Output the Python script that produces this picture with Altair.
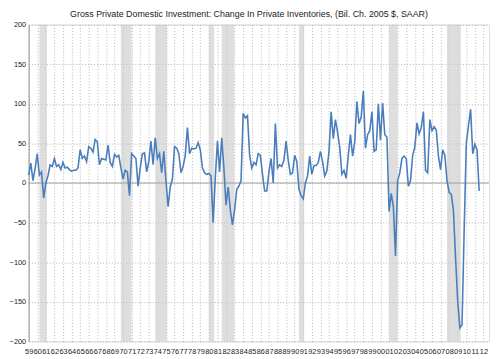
import altair as alt
import pandas as pd
import numpy as np

# Quarterly values, 1959Q1 .. 2011Q3 (Bil. Ch. 2005 $, SAAR)
values = [
    10, 25, 3, 18, 37, 10, 14, -19, 0, 9,
    23, 21, 31, 21, 23, 17, 26, 19, 20, 17,
    15, 16, 16, 19, 42, 31, 34, 27, 46, 44,
    39, 55, 52, 23, 31, 30, 29, 48, 26, 21,
    36, 33, 35, 19, 5, 16, 14, -16, 37, 34,
    31, -4, 19, 37, 38, 14, 27, 53, 23, 57,
    31, 37, 13, 40, 3, -30,
    -5, 5, 46, 44, 37, 13, 21, 35, 70, 37,
    44, 43, 44, 51, 42, 19, 13, 11, 12, 9,
    -50, 7, 53, 14, 57, 19, -28, -5, -34, -53,
    -34, -8, -4, 3, 88, 82, 85, 35, 19, 26,
    23, 37, 35, 11, -10, -10, 14, 31, 0, 75,
    19, 23, 21, 29, 53, 29, 11, 13, 35, 27,
    -8, -16, -20, 0, 9, 34, 11, 22, 22, 26,
    40, 27, 9, 15,
    40, 90, 56, 80, 64, 45, 11, 16, 6, 35,
    61, 34, 52, 103, 75, 83, 116, 44, 61, 66,
    90, 40, 42, 100, 54, 101, 61, 58, -36, -13,
    -30, -92, 3, 13, 31, 34, 31, -4, 3, 35,
    45, 76, 62, 70, 90, 16, 13, 80, 66, 71,
    67, 34, 17, 42, 35, 3, -12, -14, -35, -95,
    -150, -183, -179, -60, 50, 72, 93, 37, 49, 42,
    -10,
]
start_year = 1959

# Recession shading (decimal years)
rec_start = [1960.25, 1969.75, 1973.75, 1980.0, 1981.5, 1990.5, 2001.0, 2007.75]
rec_end = [1961.125, 1971.0, 1975.125, 1980.625, 1982.95, 1991.1, 2002.0, 2009.35]

year_ticks = list(range(1959, 2013))
y_ticks = [-200, -150, -100, -50, 0, 50, 100, 150, 200]
zero_line = [0]

title_text = "Gross Private Domestic Investment: Change In Private Inventories, (Bil. Ch. 2005 $, SAAR)"

df = pd.DataFrame({"date": start_year + np.arange(len(values)) / 4.0, "value": values})
rec = pd.DataFrame({"start": rec_start, "end": rec_end})
zdf = pd.DataFrame({"y": zero_line})

FONT = "Liberation Sans"
GRID = "#b4b4b4"

x_scale = alt.Scale(domain=[1959, 2012.65], nice=False, zero=False)
y_scale = alt.Scale(domain=[-200, 200], nice=False, zero=False)

x_axis = alt.Axis(
    values=year_ticks,
    labelExpr="slice('0' + (datum.value % 100), -2)",
    grid=True, gridColor=GRID, gridDash=[1, 2], gridWidth=1,
    domain=False, ticks=False,
    labelFont=FONT, labelFontSize=7.5, labelColor="#222",
    labelPadding=6, labelOverlap=False, labelFlush=False, labelBound=False,
    title=None,
)
y_axis = alt.Axis(
    values=y_ticks,
    grid=True, gridColor=GRID, gridDash=[1, 2], gridWidth=1,
    domain=True, domainColor="#9a9a9a", domainWidth=1,
    ticks=False,
    labelFont=FONT, labelFontSize=7.5, labelColor="#222",
    labelPadding=3,
    title=None,
)

bands = alt.Chart(rec).mark_rect(color="#cccccc", opacity=0.65).encode(
    x=alt.X("start:Q", scale=x_scale, axis=x_axis),
    x2="end:Q",
)

zero = alt.Chart(zdf).mark_rule(color="#a0a0a0", strokeWidth=1).encode(
    y=alt.Y("y:Q", scale=y_scale, axis=y_axis),
)

line = alt.Chart(df).mark_line(color="#4a7ebb", strokeWidth=1.6).encode(
    x=alt.X("date:Q", scale=x_scale, axis=x_axis),
    y=alt.Y("value:Q", scale=y_scale, axis=y_axis),
)

chart = (
    alt.layer(bands, zero, line)
    .properties(
        width=468,
        height=322,
        autosize=alt.AutoSizeParams(type="none"),
        padding={"left": 21, "top": 14, "right": 3, "bottom": 15},
        title=alt.TitleParams(
            title_text, font=FONT, fontSize=9, fontWeight="normal",
            color="#222", offset=2, anchor="middle", dx=-10,
        ),
    )
    .configure_view(stroke=GRID, strokeDash=[1, 2], strokeWidth=1)
    .configure(background="white")
)

chart.save("out.html", embed_options={"renderer": "svg", "actions": False})
